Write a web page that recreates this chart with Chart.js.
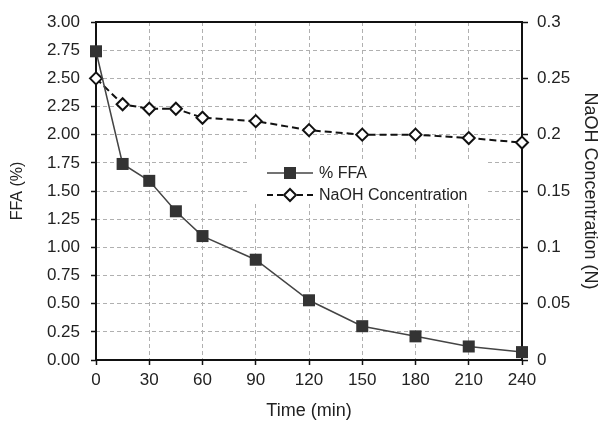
<!DOCTYPE html>
<html>
<head>
<meta charset="utf-8">
<script src="https://cdn.jsdelivr.net/npm/chart.js@4"></script>
<style>
  html, body { margin: 0; padding: 0; background: #fff; }
  #wrap { width: 601px; height: 423px; position: relative; }
</style>
</head>
<body>
<div id="wrap"><canvas id="ffaChart"></canvas></div>
<script>
// time points (min)
const times = [0, 15, 30, 45, 60, 90, 120, 150, 180, 210, 240];
// % FFA (left axis)
const ffaValues = [2.74, 1.74, 1.59, 1.32, 1.10, 0.89, 0.53, 0.30, 0.21, 0.12, 0.07];
// NaOH concentration, N (right axis)
const naohValues = [0.250, 0.227, 0.223, 0.223, 0.215, 0.212, 0.204, 0.200, 0.200, 0.197, 0.193];
const xTicks = [0, 30, 60, 90, 120, 150, 180, 210, 240];
const legendLabels = ['% FFA', 'NaOH Concentration'];

const FONT = '"Liberation Sans", Arial, sans-serif';
const TEXT = '#222';
const GRID = '#b0b0b0';

// black frame round the plot area
const frame = {
  id: 'frame',
  beforeDatasetsDraw(chart) {
    const { ctx, chartArea: a } = chart;
    ctx.save();
    ctx.strokeStyle = '#111';
    ctx.lineWidth = 2;
    ctx.strokeRect(a.left, a.top, a.right - a.left, a.bottom - a.top);
    ctx.restore();
  }
};

// legend sitting inside the plot, white box behind it
const boxLegend = {
  id: 'boxLegend',
  afterDatasetsDraw(chart) {
    const { ctx } = chart;
    const x0 = 248, y0 = 159, w = 240, h = 42;
    ctx.save();
    ctx.fillStyle = '#fff';
    ctx.fillRect(x0, y0, w, h);
    ctx.font = '16px ' + FONT;
    ctx.textBaseline = 'middle';
    ctx.fillStyle = TEXT;

    // row 1: % FFA
    let y = 173;
    ctx.strokeStyle = '#444';
    ctx.lineWidth = 1.5;
    ctx.beginPath(); ctx.moveTo(267, y); ctx.lineTo(313, y); ctx.stroke();
    ctx.fillStyle = '#333';
    ctx.fillRect(284, y - 6, 12, 12);
    ctx.fillStyle = TEXT;
    ctx.fillText(legendLabels[0], 319, y + 1);

    // row 2: NaOH
    y = 195;
    ctx.strokeStyle = '#111';
    ctx.lineWidth = 2;
    ctx.setLineDash([6, 4]);
    ctx.beginPath(); ctx.moveTo(267, y); ctx.lineTo(313, y); ctx.stroke();
    ctx.setLineDash([]);
    ctx.fillStyle = '#fff';
    ctx.beginPath();
    ctx.moveTo(290, y - 6); ctx.lineTo(296, y); ctx.lineTo(290, y + 6); ctx.lineTo(284, y); ctx.closePath();
    ctx.fill(); ctx.stroke();
    ctx.fillStyle = TEXT;
    ctx.fillText(legendLabels[1], 319, y + 1);
    ctx.restore();
  }
};

const ctx = document.getElementById('ffaChart').getContext('2d');
new Chart(ctx, {
  type: 'line',
  data: {
    datasets: [
      {
        label: legendLabels[0],
        data: times.map((t, i) => ({ x: t, y: ffaValues[i] })),
        yAxisID: 'y',
        clip: false,
        borderColor: '#444',
        borderWidth: 1.5,
        backgroundColor: '#333',
        pointStyle: 'rect',
        pointRadius: 8.5,
        pointBorderWidth: 0,
        pointBackgroundColor: '#333',
        tension: 0
      },
      {
        label: legendLabels[1],
        data: times.map((t, i) => ({ x: t, y: naohValues[i] })),
        yAxisID: 'y1',
        clip: false,
        borderColor: '#111',
        borderWidth: 2,
        borderDash: [7, 4],
        pointStyle: 'rectRot',
        pointRadius: 6,
        pointBorderWidth: 2,
        pointBorderColor: '#111',
        pointBackgroundColor: '#fff',
        tension: 0
      }
    ]
  },
  options: {
    responsive: true,
    maintainAspectRatio: false,
    animation: false,
    layout: { padding: { top: 22, left: 0, right: 0, bottom: 0 } },
    plugins: {
      legend: { display: false },
      tooltip: { enabled: false }
    },
    scales: {
      x: {
        type: 'linear',
        min: 0, max: 240,
        afterFit: s => { s.height = 63; },
        afterBuildTicks: s => { s.ticks = xTicks.map(v => ({ value: v })); },
        ticks: { font: { size: 17, family: FONT }, color: TEXT, padding: 5 },
        grid: { color: GRID, lineWidth: 1, tickLength: 5, tickColor: '#111', tickWidth: 1.5, tickBorderDash: [] },
        border: { display: false, dash: [4, 3] },
        title: { display: true, text: 'Time (min)', font: { size: 18, family: FONT }, color: TEXT, padding: { top: 0, bottom: 1 } }
      },
      y: {
        position: 'left',
        min: 0, max: 3,
        afterFit: s => { s.width = 96; },
        ticks: {
          stepSize: 0.25,
          font: { size: 17, family: FONT }, color: TEXT, padding: 11,
          callback: v => v.toFixed(2)
        },
        grid: { color: GRID, lineWidth: 1, tickLength: 5, tickColor: '#111', tickWidth: 1.5, tickBorderDash: [] },
        border: { display: false, dash: [4, 3] },
        title: { display: true, text: 'FFA (%)', font: { size: 16, family: FONT }, color: TEXT, padding: { top: 8, bottom: 0 } }
      },
      y1: {
        position: 'right',
        min: 0, max: 0.3,
        afterFit: s => { s.width = 79; },
        ticks: {
          stepSize: 0.05,
          font: { size: 17, family: FONT }, color: TEXT, padding: 9,
          callback: v => String(+v.toFixed(2))
        },
        grid: { drawOnChartArea: false, tickLength: 6, tickColor: '#111', tickWidth: 1.5, tickBorderDash: [] },
        border: { display: false },
        title: { display: true, text: 'NaOH Concentration (N)', font: { size: 18, family: FONT }, color: TEXT, padding: { top: 0, bottom: 0 } }
      }
    }
  },
  plugins: [frame, boxLegend]
});
</script>
</body>
</html>
